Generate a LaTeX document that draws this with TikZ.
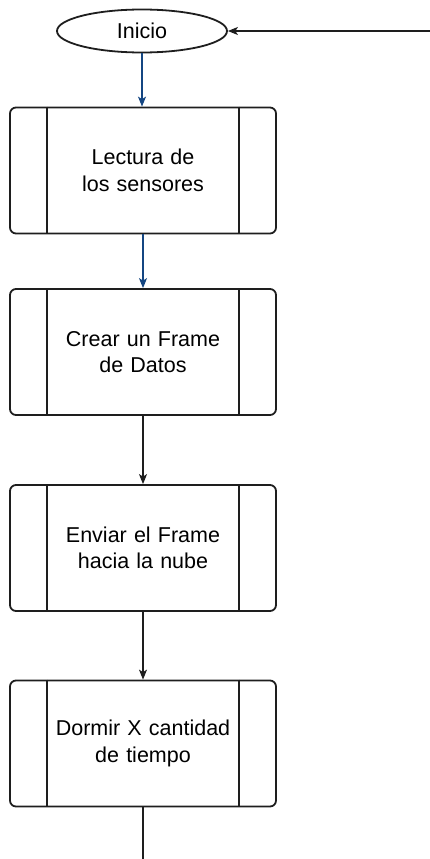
\documentclass[tikz,border=0pt]{standalone}
\usepackage{fontspec}
\setmainfont{Liberation Sans}
\usetikzlibrary{arrows.meta,shapes.geometric}
\definecolor{flowblue}{RGB}{20,70,130}
\definecolor{linegray}{RGB}{30,30,30}
\tikzset{
  x=1pt,y=-1pt,
  procbox/.style={draw=linegray,line width=1.8pt,rounded corners=6pt,minimum width=266pt,minimum height=126pt,
    inner sep=0pt,align=center,font=\fontsize{21.5pt}{26.5pt}\selectfont,text width=190pt},
  startnode/.style={draw=linegray,line width=1.8pt,ellipse,minimum width=170pt,minimum height=43pt,inner sep=0pt,
    font=\fontsize{21.5pt}{26.5pt}\selectfont},
  conn/.style={line width=1.2pt,draw=linegray,-{Stealth[length=10pt,width=8pt,inset=2.5pt]}},
  connblue/.style={conn,draw=flowblue,-{Stealth[length=10pt,width=8pt,inset=2.5pt,fill=flowblue]}},
}
\begin{document}
\begin{tikzpicture}
\useasboundingbox (0,0) rectangle (430,859);
\node[startnode] (start) at (142,31) {Inicio};
\node[procbox] (b1) at (143,170.5) {Lectura de\\los sensores};
\node[procbox] (b2) at (143,352) {Crear un Frame\\de Datos};
\node[procbox] (b3) at (143,548) {Enviar el Frame\\hacia la nube};
\node[procbox] (b4) at (143,743.5) {Dormir X cantidad\\de tiempo};
\foreach \b in {b1,b2,b3,b4}{
  \draw[draw=linegray,line width=1.8pt] ([xshift=38pt]\b.north west) -- ([xshift=38pt]\b.south west);
  \draw[draw=linegray,line width=1.8pt] ([xshift=-38pt]\b.north east) -- ([xshift=-38pt]\b.south east);
}
\coordinate (loopin) at (430,31);
\coordinate (bottomend) at (143,859);
\draw[connblue] (start.south) -- (start.south |- b1.north);
\draw[connblue] (b1.south) -- (b2.north);
\draw[conn] (b2.south) -- (b3.north);
\draw[conn] (b3.south) -- (b4.north);
\draw[line width=1.2pt,draw=linegray] (b4.south) -- (bottomend);
\draw[conn] (loopin) -- (start.east);
\end{tikzpicture}
\end{document}
